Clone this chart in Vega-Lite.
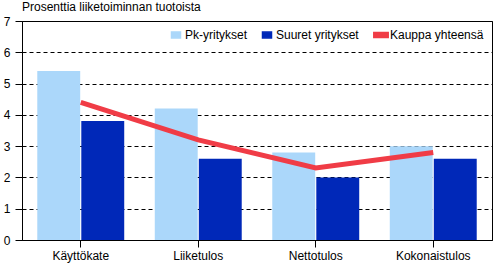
{
  "$schema": "https://vega.github.io/schema/vega-lite/v6.json",
  "width": 470,
  "height": 219,
  "autosize": {"type": "none"},
  "padding": {"left": 22, "top": 21, "right": 1, "bottom": 26},
  "title": {"text": "Prosenttia liiketoiminnan tuotoista", "anchor": "start", "frame": "group", "font": "Liberation Sans", "fontSize": 12, "fontWeight": "normal", "color": "black", "baseline": "alphabetic", "offset": -8},
  "config": {
    "view": {"stroke": "black", "strokeWidth": 1},
    "font": "Liberation Sans"
  },
  "data": {"values": [
    {"cat": "Käyttökate", "series": "Pk-yritykset", "value": 5.4},
    {"cat": "Käyttökate", "series": "Suuret yritykset", "value": 3.8},
    {"cat": "Käyttökate", "series": "Kauppa yhteensä", "value": 4.4},
    {"cat": "Liiketulos", "series": "Pk-yritykset", "value": 4.2},
    {"cat": "Liiketulos", "series": "Suuret yritykset", "value": 2.6},
    {"cat": "Liiketulos", "series": "Kauppa yhteensä", "value": 3.2},
    {"cat": "Nettotulos", "series": "Pk-yritykset", "value": 2.8},
    {"cat": "Nettotulos", "series": "Suuret yritykset", "value": 2.0},
    {"cat": "Nettotulos", "series": "Kauppa yhteensä", "value": 2.3},
    {"cat": "Kokonaistulos", "series": "Pk-yritykset", "value": 3.0},
    {"cat": "Kokonaistulos", "series": "Suuret yritykset", "value": 2.6},
    {"cat": "Kokonaistulos", "series": "Kauppa yhteensä", "value": 2.8}
  ]},
  "encoding": {
    "x": {"field": "cat", "type": "nominal", "sort": ["Käyttökate", "Liiketulos", "Nettotulos", "Kokonaistulos"],
      "scale": {"paddingInner": 0.26, "paddingOuter": 0.13},
      "axis": {"title": null, "labelAngle": 0, "labelFont": "Liberation Sans", "labelFontSize": 12, "labelColor": "black", "tickColor": "black", "tickSize": 7, "domainColor": "black", "labelPadding": 3}},
    "y": {"field": "value", "type": "quantitative",
      "scale": {"domain": [0, 7], "nice": false},
      "axis": {"title": null, "values": [0, 1, 2, 3, 4, 5, 6, 7], "grid": true, "gridColor": "black", "gridDash": [4, 3], "gridOpacity": 1, "tickColor": "black", "tickSize": 7, "domainColor": "black", "labelFont": "Liberation Sans", "labelFontSize": 12, "labelColor": "black", "labelPadding": 5}},
    "color": {"field": "series", "type": "nominal",
      "scale": {"domain": ["Pk-yritykset", "Suuret yritykset", "Kauppa yhteensä"], "range": ["#ABD7FA", "#0028B8", "#F03C46"]},
      "legend": {"title": null, "orient": "top-right", "direction": "horizontal", "offset": 8, "labelFont": "Liberation Sans", "labelFontSize": 12, "labelColor": "black", "labelOffset": 3, "columnPadding": 11, "symbolSize": 81,
        "encode": {"symbols": {"update": {
          "shape": {"signal": "datum.label === 'Kauppa yhteensä' ? 'M-1.6,-0.55H1.6V0.55H-1.6Z' : 'M-1,-0.65H1V0.65H-1Z'"},
          "fill": {"scale": "color", "field": "value"},
          "stroke": {"value": "transparent"},
          "opacity": {"value": 1}
        }}}}
    }
  },
  "layer": [
    {
      "transform": [{"filter": "datum.series !== 'Kauppa yhteensä'"}],
      "mark": {"type": "bar"},
      "encoding": {
        "xOffset": {"field": "series", "type": "nominal", "sort": ["Pk-yritykset", "Suuret yritykset"], "scale": {"paddingInner": 0.025}}
      }
    },
    {
      "transform": [{"filter": "datum.series === 'Kauppa yhteensä'"}],
      "mark": {"type": "line", "strokeWidth": 5, "strokeCap": "butt"},
      "encoding": {}
    }
  ]
}
